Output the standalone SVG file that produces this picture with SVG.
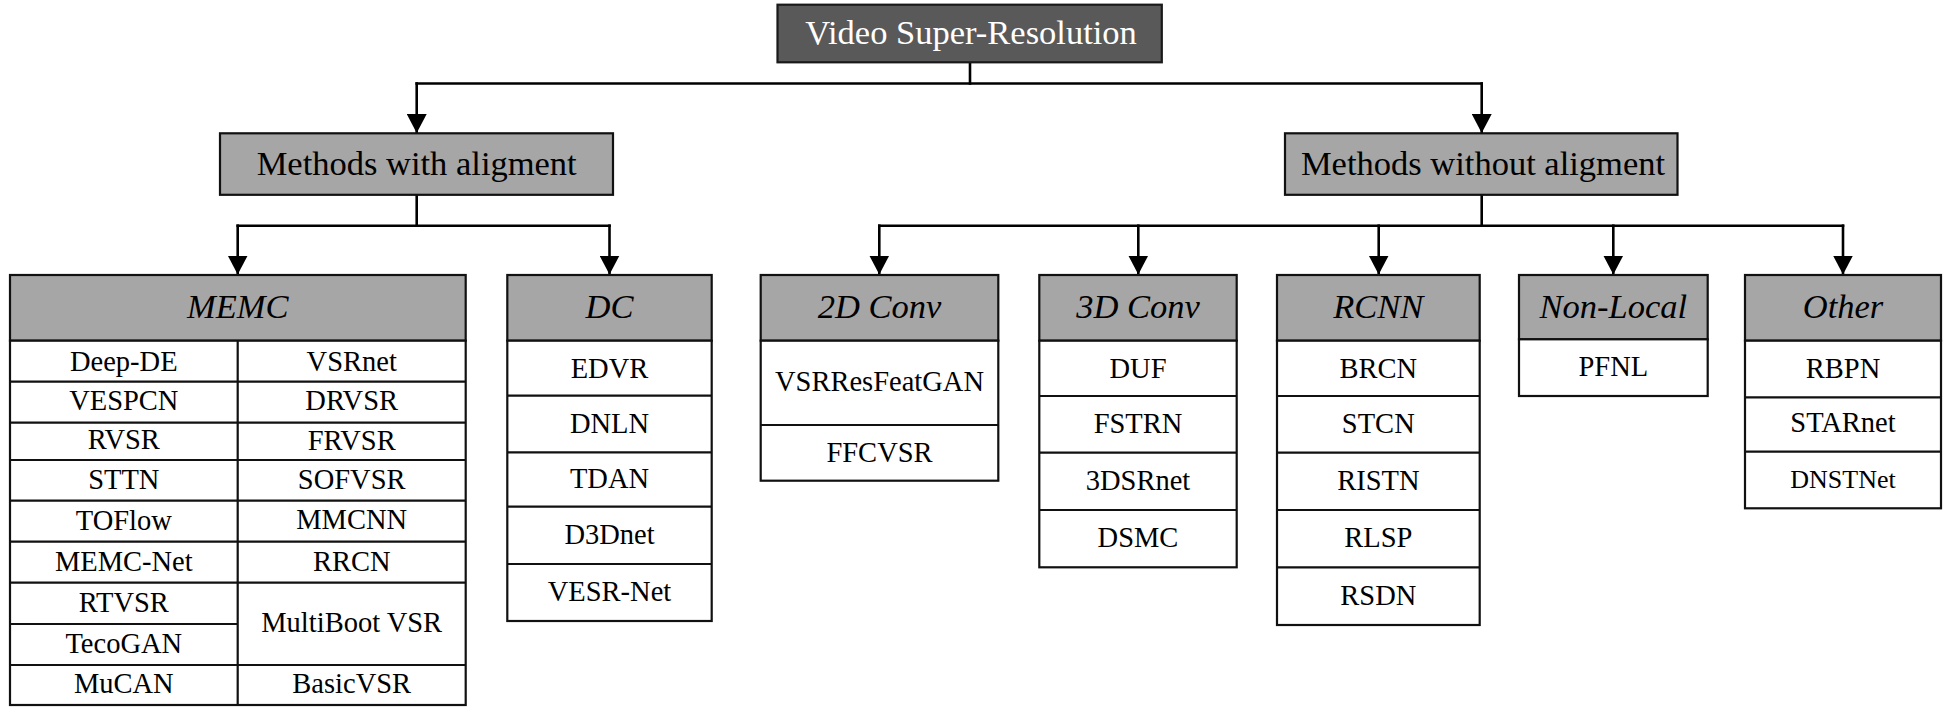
<svg xmlns="http://www.w3.org/2000/svg" width="1953" height="711" viewBox="0 0 1953 711">
<style>
  .bg{fill:#ffffff}
  .root{fill:#595959;stroke:#1a1a1a;stroke-width:2.2}
  .lvl{fill:#a6a6a6;stroke:#111;stroke-width:2.2}
  .hdr{fill:#a6a6a6;stroke:#111;stroke-width:2.2}
  .cell{fill:#ffffff;stroke:#111;stroke-width:2.2}
  .div{stroke:#111;stroke-width:2.2;fill:none}
  .conn{stroke:#000;stroke-width:2.6;fill:none;stroke-linecap:square}
  .t{font-family:"Liberation Serif","Times New Roman",serif;fill:#000;text-anchor:middle}
  .big{font-size:34.5px}
  .rootT{font-size:34.5px;fill:#ffffff}
  .h{font-size:34.5px;font-style:italic}
  .c{font-size:28.5px}
  .s{font-size:26px}
</style>
<defs>
  <marker id="arr" markerUnits="userSpaceOnUse" markerWidth="20" markerHeight="20" refX="19" refY="10" orient="auto">
    <path d="M0,0 L19,10 L0,20 Z" fill="#000"/>
  </marker>
</defs>
<rect class="bg" x="0" y="0" width="1953" height="711"/>

<g id="connectors">
  <path class="conn" d="M970,62.5 V83.5"/>
  <path class="conn" d="M416.7,83.5 H1481.7"/>
  <path class="conn" d="M416.7,83.5 V133" marker-end="url(#arr)"/>
  <path class="conn" d="M1481.7,83.5 V133" marker-end="url(#arr)"/>
  <path class="conn" d="M416.7,195 V225.7"/>
  <path class="conn" d="M237.7,225.7 H609.5"/>
  <path class="conn" d="M237.7,225.7 V274.5" marker-end="url(#arr)"/>
  <path class="conn" d="M609.5,225.7 V274.5" marker-end="url(#arr)"/>
  <path class="conn" d="M1481.7,195 V225.7"/>
  <path class="conn" d="M879.3,225.7 H1843"/>
  <path class="conn" d="M879.3,225.7 V274.5" marker-end="url(#arr)"/>
  <path class="conn" d="M1138.3,225.7 V274.5" marker-end="url(#arr)"/>
  <path class="conn" d="M1378.7,225.7 V274.5" marker-end="url(#arr)"/>
  <path class="conn" d="M1613.3,225.7 V274.5" marker-end="url(#arr)"/>
  <path class="conn" d="M1843,225.7 V274.5" marker-end="url(#arr)"/>
</g>

<g id="root">
  <rect class="root" x="777.5" y="4.7" width="384.3" height="57.6"/>
  <text class="t rootT" x="971" y="44">Video Super-Resolution</text>
</g>

<g id="with-alignment">
  <rect class="lvl" x="220" y="133.3" width="393" height="61.5"/>
  <text class="t big" x="416.7" y="174.5">Methods with aligment</text>
</g>

<g id="without-alignment">
  <rect class="lvl" x="1285" y="133.3" width="392.5" height="61.5"/>
  <text class="t big" x="1483" y="174.5">Methods without aligment</text>
</g>

<g id="memc">
  <rect class="hdr" x="10" y="275" width="455.7" height="65.7"/>
  <rect class="cell" x="10" y="340.7" width="455.7" height="364.3"/>
  <path class="div" d="M10,381.7 H465.7 M10,422.7 H465.7 M10,460 H465.7 M10,500.7 H465.7 M10,541.7 H465.7 M10,582.7 H465.7 M10,624 H237.7 M10,665 H465.7 M237.7,340.7 V705"/>
  <text class="t h" x="237.8" y="318">MEMC</text>
  <text class="t c" x="123.8" y="371">Deep-DE</text>
  <text class="t c" x="123.8" y="410">VESPCN</text>
  <text class="t c" x="123.8" y="448.5">RVSR</text>
  <text class="t c" x="123.8" y="489">STTN</text>
  <text class="t c" x="123.8" y="529.5">TOFlow</text>
  <text class="t c" x="123.8" y="570.7">MEMC-Net</text>
  <text class="t c" x="123.8" y="612">RTVSR</text>
  <text class="t c" x="123.8" y="653">TecoGAN</text>
  <text class="t c" x="123.8" y="693.3">MuCAN</text>
  <text class="t c" x="351.7" y="370.5">VSRnet</text>
  <text class="t c" x="351.7" y="410">DRVSR</text>
  <text class="t c" x="351.7" y="450">FRVSR</text>
  <text class="t c" x="351.7" y="489.3">SOFVSR</text>
  <text class="t c" x="351.7" y="529.3">MMCNN</text>
  <text class="t c" x="351.7" y="570.7">RRCN</text>
  <text class="t c" x="351.7" y="631.7">MultiBoot VSR</text>
  <text class="t c" x="351.7" y="693.3">BasicVSR</text>
</g>

<g id="dc">
  <rect class="hdr" x="507.3" y="275" width="204.4" height="65.7"/>
  <rect class="cell" x="507.3" y="340.7" width="204.4" height="280.3"/>
  <path class="div" d="M507.3,395.7 H711.7 M507.3,452.3 H711.7 M507.3,506.7 H711.7 M507.3,564 H711.7"/>
  <text class="t h" x="609.5" y="318">DC</text>
  <text class="t c" x="609.5" y="378.3">EDVR</text>
  <text class="t c" x="609.5" y="433.3">DNLN</text>
  <text class="t c" x="609.5" y="487.7">TDAN</text>
  <text class="t c" x="609.5" y="544">D3Dnet</text>
  <text class="t c" x="609.5" y="600.7">VESR-Net</text>
</g>

<g id="conv2d">
  <rect class="hdr" x="760.7" y="275" width="237.6" height="65.7"/>
  <rect class="cell" x="760.7" y="340.7" width="237.6" height="140"/>
  <path class="div" d="M760.7,425 H998.3"/>
  <text class="t h" x="879.5" y="318">2D Conv</text>
  <text class="t c" x="879.5" y="390.7">VSRResFeatGAN</text>
  <text class="t c" x="879.5" y="461.7">FFCVSR</text>
</g>

<g id="conv3d">
  <rect class="hdr" x="1039.3" y="275" width="197.4" height="65.7"/>
  <rect class="cell" x="1039.3" y="340.7" width="197.4" height="226.6"/>
  <path class="div" d="M1039.3,396 H1236.7 M1039.3,452.7 H1236.7 M1039.3,510 H1236.7"/>
  <text class="t h" x="1138" y="318">3D Conv</text>
  <text class="t c" x="1138" y="378.3">DUF</text>
  <text class="t c" x="1138" y="433.3">FSTRN</text>
  <text class="t c" x="1138" y="490">3DSRnet</text>
  <text class="t c" x="1138" y="547.3">DSMC</text>
</g>

<g id="rcnn">
  <rect class="hdr" x="1277" y="275" width="202.7" height="65.7"/>
  <rect class="cell" x="1277" y="340.7" width="202.7" height="284.3"/>
  <path class="div" d="M1277,396 H1479.7 M1277,452.7 H1479.7 M1277,510 H1479.7 M1277,567.3 H1479.7"/>
  <text class="t h" x="1378.3" y="318">RCNN</text>
  <text class="t c" x="1378.3" y="378.3">BRCN</text>
  <text class="t c" x="1378.3" y="433.3">STCN</text>
  <text class="t c" x="1378.3" y="490">RISTN</text>
  <text class="t c" x="1378.3" y="547.3">RLSP</text>
  <text class="t c" x="1378.3" y="605">RSDN</text>
</g>

<g id="nonlocal">
  <rect class="hdr" x="1519" y="275" width="188.7" height="64.3"/>
  <rect class="cell" x="1519" y="339.3" width="188.7" height="56.7"/>
  <text class="t h" x="1613.3" y="318">Non-Local</text>
  <text class="t c" x="1613.3" y="376">PFNL</text>
</g>

<g id="other">
  <rect class="hdr" x="1745" y="275" width="196" height="65.7"/>
  <rect class="cell" x="1745" y="340.7" width="196" height="167.6"/>
  <path class="div" d="M1745,397.3 H1941 M1745,451.7 H1941"/>
  <text class="t h" x="1843" y="318">Other</text>
  <text class="t c" x="1843" y="378.3">RBPN</text>
  <text class="t c" x="1843" y="431.7">STARnet</text>
  <text class="t s" x="1843" y="488.3">DNSTNet</text>
</g>
</svg>
